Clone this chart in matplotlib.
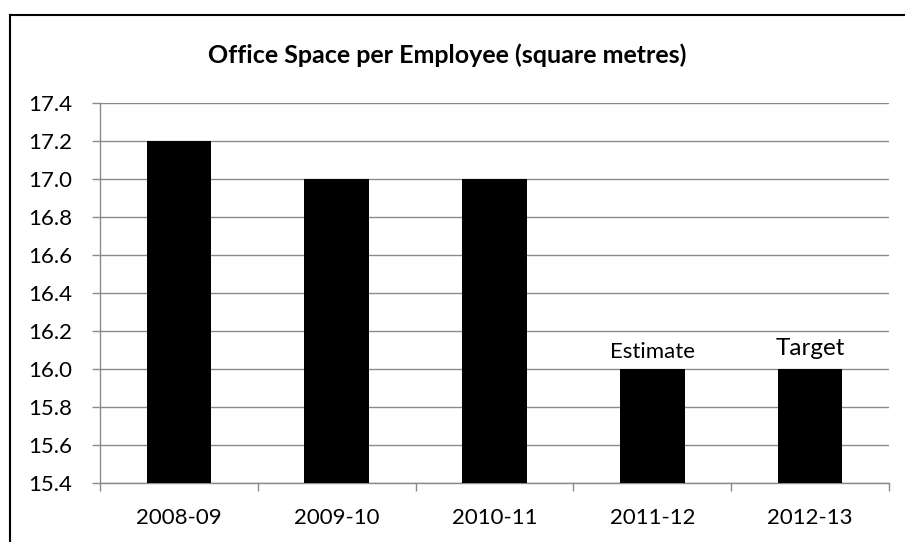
import matplotlib
matplotlib.use("Agg")
import matplotlib.pyplot as plt
from matplotlib.lines import Line2D

plt.rcParams["font.family"] = ["Lato", "DejaVu Sans"]

years = ["2008-09", "2009-10", "2010-11", "2011-12", "2012-13"]
space = [17.2, 17.0, 17.0, 16.0, 16.0]
notes = ["", "", "", "Estimate", "Target"]
note_sizes = [16, 16, 16, 16, 17.5]
note_offsets = [8, 8, 8, 8, 10]
yticks = [15.4, 15.6, 15.8, 16.0, 16.2, 16.4, 16.6, 16.8, 17.0, 17.2, 17.4]

GRID = "#8a8a8a"

fig = plt.figure(figsize=(9.05, 5.42), dpi=100)
fig.patch.set_facecolor("white")
ax = fig.add_axes([100 / 905, 1 - 483 / 542, 789 / 905, 380 / 542])

x = list(range(len(years)))
ax.bar(x, [v - 15.4 for v in space], bottom=15.4, width=0.41,
       color="black", zorder=3)

ax.set_ylim(15.4, 17.4)
ax.set_xlim(-0.5, len(years) - 0.5)
ax.set_yticks(yticks)
ax.set_yticklabels([f"{t:.1f}" for t in yticks])
ax.yaxis.grid(True, color=GRID, linewidth=1.0, zorder=0)

# boundary ticks on the x axis, labels centred under the bars
ax.set_xticks([i - 0.5 for i in range(len(years) + 1)])
ax.set_xticklabels([])
ax.set_xticks(x, minor=True)
ax.set_xticklabels(years, minor=True)
ax.tick_params(axis="x", which="major", length=6, color=GRID, width=1.0)
ax.tick_params(axis="x", which="minor", length=0, pad=18, labelsize=16)
ax.tick_params(axis="y", length=6, color=GRID, width=1.0, labelsize=16, pad=14)

for s in ("top", "right"):
    ax.spines[s].set_visible(False)
for s in ("left", "bottom"):
    ax.spines[s].set_color(GRID)
    ax.spines[s].set_linewidth(1.0)

for xi, v, n, fs, off in zip(x, space, notes, note_sizes, note_offsets):
    if n:
        ax.annotate(n, (xi, v), xytext=(0, off), textcoords="offset points",
                    ha="center", va="baseline", fontsize=fs, color="black")

fig.text(447 / 905, 1 - 55 / 542, "Office Space per Employee (square metres)",
         ha="center", va="center", fontsize=18, fontweight="bold")

# chart frame (only top and left edges fall inside the picture)
fig.add_artist(Line2D([10 / 905, 10 / 905], [0, 1 - 15 / 542],
                      transform=fig.transFigure, color="black", linewidth=1.5))
fig.add_artist(Line2D([10 / 905, 1], [1 - 15 / 542, 1 - 15 / 542],
                      transform=fig.transFigure, color="black", linewidth=1.5))

fig.savefig("out.png", facecolor="white")
